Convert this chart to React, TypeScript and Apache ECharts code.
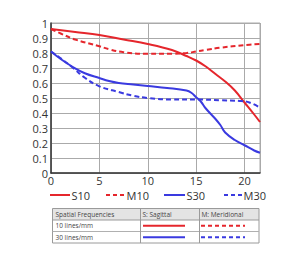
import React, { useEffect, useRef } from "react";
import * as echarts from "echarts";

const xTicks = [0, 5, 10, 15, 20];
const s10X = [0, 2.5, 5, 7.5, 10, 12.5, 14, 15, 16, 17, 18, 19, 20, 21, 21.6];
const s10Y = [0.96, 0.94, 0.92, 0.89, 0.86, 0.82, 0.78, 0.75, 0.71, 0.66, 0.61, 0.55, 0.47, 0.39, 0.34];
const m10X = [0, 1, 2.5, 5, 6, 7.5, 10, 12.5, 14, 15, 16, 17.5, 20, 21.6];
const m10Y = [0.96, 0.93, 0.89, 0.845, 0.825, 0.805, 0.795, 0.795, 0.80, 0.81, 0.82, 0.835, 0.853, 0.86];
const s30X = [0, 1, 2.3, 3.5, 5, 6, 7, 8.5, 10, 12, 14, 14.5, 15, 15.5, 16, 17, 17.5, 18, 19, 20, 21, 21.6];
const s30Y = [0.81, 0.76, 0.705, 0.665, 0.633, 0.613, 0.60, 0.59, 0.58, 0.567, 0.55, 0.535, 0.505, 0.475, 0.43, 0.36, 0.32, 0.27, 0.22, 0.185, 0.15, 0.135];
const m30X = [0, 1, 2.3, 3.5, 5, 7, 8.5, 10, 12.5, 15, 17.5, 19.5, 20.5, 21.6];
const m30Y = [0.81, 0.765, 0.70, 0.635, 0.578, 0.54, 0.515, 0.50, 0.49, 0.49, 0.485, 0.48, 0.47, 0.436];
const seriesNames = ["S10", "M10", "S30", "M30"];
const tableHeader = ["Spatial Frequencies", "S: Sagittal", "M: Meridional"];
const tableRows = ["10 lines/mm", "30 lines/mm"];

const RED = "#e5262c";
const BLUE = "#3a3ae0";

const zip = (xs: number[], ys: number[]) => xs.map((x, i) => [x, ys[i]]);

export default function App() {
  const ref = useRef<HTMLDivElement>(null);
  useEffect(() => {
    const chart = echarts.init(ref.current!, null, { renderer: "svg" });
    const font = "Open Sans";
    const fs = 11;
    const tx = 52.5, tw = 206.5, ty = 208.5;
    const rh = 11.5;
    const c1 = 140.5, c2 = 199.5;
    const graphics: any[] = [
      { type: "rect", shape: { x: tx, y: ty, width: tw, height: rh }, style: { fill: "#e4e4e4", stroke: "none" } },
      { type: "rect", shape: { x: tx, y: ty, width: tw, height: rh * 3 }, style: { fill: "none", stroke: "#9a9a9a", lineWidth: 1 } },
      { type: "line", shape: { x1: tx, y1: ty + rh, x2: tx + tw, y2: ty + rh }, style: { stroke: "#9a9a9a", lineWidth: 1 } },
      { type: "line", shape: { x1: tx, y1: ty + 2 * rh, x2: tx + tw, y2: ty + 2 * rh }, style: { stroke: "#b0b0b0", lineWidth: 1 } },
      { type: "line", shape: { x1: c1, y1: ty, x2: c1, y2: ty + 3 * rh }, style: { stroke: "#9a9a9a", lineWidth: 1 } },
      { type: "line", shape: { x1: c2, y1: ty, x2: c2, y2: ty + 3 * rh }, style: { stroke: "#9a9a9a", lineWidth: 1 } },
    ];
    const colX = [tx + 3, c1 + 2, c2 + 2];
    tableHeader.forEach((t, i) => {
      graphics.push({ type: "text", x: colX[i], y: ty + rh / 2, style: { text: t, fontSize: 6.5, lineHeight: 7, fontFamily: font, fill: "#444", verticalAlign: "middle" } });
    });
    tableRows.forEach((t, r) => {
      const cy = ty + rh * (r + 1) + rh / 2;
      const col = r === 0 ? RED : BLUE;
      graphics.push({ type: "text", x: colX[0], y: cy, style: { text: t, fontSize: 6.5, lineHeight: 7, fontFamily: font, fill: "#444", verticalAlign: "middle" } });
      graphics.push({ type: "line", shape: { x1: 143, y1: cy, x2: 185, y2: cy }, style: { stroke: col, lineWidth: 2 } });
      graphics.push({ type: "line", shape: { x1: 201, y1: cy, x2: 245, y2: cy }, style: { stroke: col, lineWidth: 2, lineDash: [4, 3] } });
    });

    // legend
    const legY = 195;
    const legLines = [[50, 70], [106, 125], [164, 185], [224, 242]];
    const legCols = [RED, RED, BLUE, BLUE];
    seriesNames.forEach((n, i) => {
      const [a, b] = legLines[i];
      const dashed = i % 2 === 1;
      graphics.push({ type: "line", shape: { x1: a, y1: legY, x2: b, y2: legY }, style: { stroke: legCols[i], lineWidth: 2, lineDash: dashed ? [4, 3] : null } });
      graphics.push({ type: "text", x: b + 1.5, y: legY, style: { text: n, fontSize: fs, lineHeight: fs, fontFamily: font, fill: "#333", verticalAlign: "middle" } });
    });

    const mk = (name: string, data: number[][], color: string, dashed: boolean) => ({
      name,
      type: "line",
      data,
      smooth: 0.4,
      showSymbol: false,
      symbol: "none",
      lineStyle: { color, width: 2, type: dashed ? [5, 3] : "solid" },
      itemStyle: { color },
      clip: true,
    });

    chart.setOption({
      animation: false,
      textStyle: { fontFamily: font },
      grid: { left: 51, right: 40, top: 23, bottom: 82, containLabel: false, show: true, borderColor: "#aaa", borderWidth: 1 },
      xAxis: {
        type: "value", min: 0, max: 21.6, interval: 5,
        axisLine: { show: true, onZero: false, lineStyle: { color: "#333", width: 1.5 } },
        axisTick: { show: false },
        splitLine: { show: true, lineStyle: { color: "#aaa", width: 1 } },
        axisLabel: { color: "#333", fontSize: fs, lineHeight: fs, margin: 2, showMaxLabel: false,
          formatter: (v: number) => (xTicks.includes(v) ? String(v) : "") },
      },
      yAxis: {
        type: "value", min: 0, max: 1, interval: 0.1,
        axisLine: { show: true, lineStyle: { color: "#333", width: 1.5 } },
        axisTick: { show: false },
        splitLine: { show: true, lineStyle: { color: "#aaa", width: 1 } },
        axisLabel: { color: "#333", fontSize: fs, lineHeight: fs, margin: 3, formatter: (v: number) => String(Math.round(v * 10) / 10) },
      },
      graphic: graphics,
      series: [
        mk(seriesNames[0], zip(s10X, s10Y), RED, false),
        mk(seriesNames[1], zip(m10X, m10Y), RED, true),
        mk(seriesNames[2], zip(s30X, s30Y), BLUE, false),
        mk(seriesNames[3], zip(m30X, m30Y), BLUE, true),
      ],
    });
    return () => chart.dispose();
  }, []);
  return <div ref={ref} style={{ position: "fixed", left: 0, top: 0, width: 300, height: 255, background: "#fff" }} />;
}
